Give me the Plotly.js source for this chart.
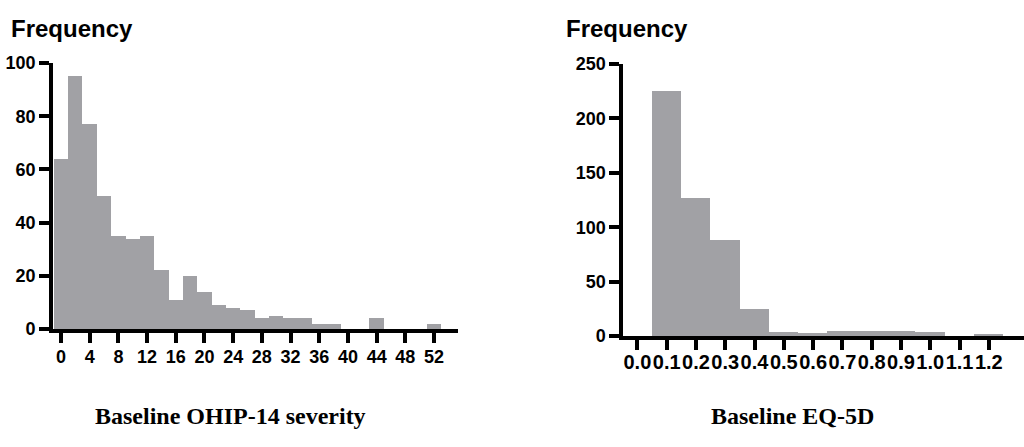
<!DOCTYPE html>
<html>
<head>
<meta charset="utf-8">
<script src="https://cdn.plot.ly/plotly-3.0.1.min.js"></script>
<style>html,body{margin:0;padding:0;background:#fff;}#chart{width:1024px;height:447px;}</style>
</head>
<body>
<div id="chart"></div>
<script>
// OHIP-14 severity histogram (bin centres, width 2)
var ohipBins = [0,2,4,6,8,10,12,14,16,18,20,22,24,26,28,30,32,34,36,38,40,42,44,46,48,50,52];
var ohipFreq = [64,95,77,50,35,34,35,22,11,20,14,9,8,7,4,5,4,4,2,2,0,0,4,0,0,0,2];
var ohipTicks = [0,4,8,12,16,20,24,28,32,36,40,44,48,52];
var ohipYTicks = [0,20,40,60,80,100];

// EQ-5D histogram (bin centres, width 0.1)
var eqBins = [0.1,0.2,0.3,0.4,0.5,0.6,0.7,0.8,0.9,1.0,1.1,1.2];
var eqFreq = [225,127,88,25,4,3,5,5,5,4,0,2];
var eqTicks = [0.0,0.1,0.2,0.3,0.4,0.5,0.6,0.7,0.8,0.9,1.0,1.1,1.2];
var eqYTicks = [0,50,100,150,200,250];

var barColor = '#a1a1a5';
function tf(size){ return {family:'Liberation Sans, Arial, sans-serif', size:size, color:'#000000', weight:700}; }

var traces = [
  {type:'bar', x:ohipBins, y:ohipFreq, width:2, marker:{color:barColor, line:{width:0}}, xaxis:'x', yaxis:'y'},
  {type:'bar', x:eqBins, y:eqFreq, width:0.1, marker:{color:barColor, line:{width:0}}, xaxis:'x2', yaxis:'y2'}
];

function ax(extra){
  var base = {showline:true, linecolor:'#000000', linewidth:4, ticks:'outside', ticklen:10, tickwidth:4, tickcolor:'#000000',
    showgrid:false, zeroline:false, layer:'above traces', tickfont:tf(18), tickangle:0, fixedrange:true};
  for (var k in extra) base[k] = extra[k];
  return base;
}

var layout = {
  width:1024, height:447,
  margin:{l:0, r:0, t:0, b:0},
  paper_bgcolor:'#ffffff', plot_bgcolor:'#ffffff',
  showlegend:false, bargap:0,
  xaxis: ax({domain:[0.0518,0.447], range:[-1.11,55.3], tickmode:'array', tickvals:ohipTicks, anchor:'y', ticklabelstandoff:-2}),
  yaxis: ax({domain:[0.264,0.859], range:[0,100], tickmode:'array', tickvals:ohipYTicks, anchor:'x'}),
  xaxis2: ax({domain:[0.6087,1.0], range:[-0.048,1.32], tickmode:'array', tickvals:eqTicks, tickformat:'.1f', anchor:'y2', tickfont:tf(20), ticklabelstandoff:-5}),
  yaxis2: ax({domain:[0.248,0.857], range:[0,250], tickmode:'array', tickvals:eqYTicks, anchor:'x2'}),
  annotations: [
    {text:'<b>Frequency</b>', xref:'paper', yref:'paper', x:9/1024, y:1-28/447, xanchor:'left', yanchor:'middle', showarrow:false,
      font:{family:'Liberation Sans, Arial, sans-serif', size:24, color:'#000'}},
    {text:'<b>Frequency</b>', xref:'paper', yref:'paper', x:564/1024, y:1-28/447, xanchor:'left', yanchor:'middle', showarrow:false,
      font:{family:'Liberation Sans, Arial, sans-serif', size:24, color:'#000'}},
    {text:'<b>Baseline OHIP-14 severity</b>', xref:'paper', yref:'paper', x:230/1024, y:1-416/447, xanchor:'center', yanchor:'middle', showarrow:false,
      font:{family:'Liberation Serif, Times New Roman, serif', size:24, color:'#000'}},
    {text:'<b>Baseline EQ-5D</b>', xref:'paper', yref:'paper', x:792/1024, y:1-416/447, xanchor:'center', yanchor:'middle', showarrow:false,
      font:{family:'Liberation Serif, Times New Roman, serif', size:24, color:'#000'}}
  ]
};

Plotly.newPlot('chart', traces, layout, {displayModeBar:false});
</script>
</body>
</html>
